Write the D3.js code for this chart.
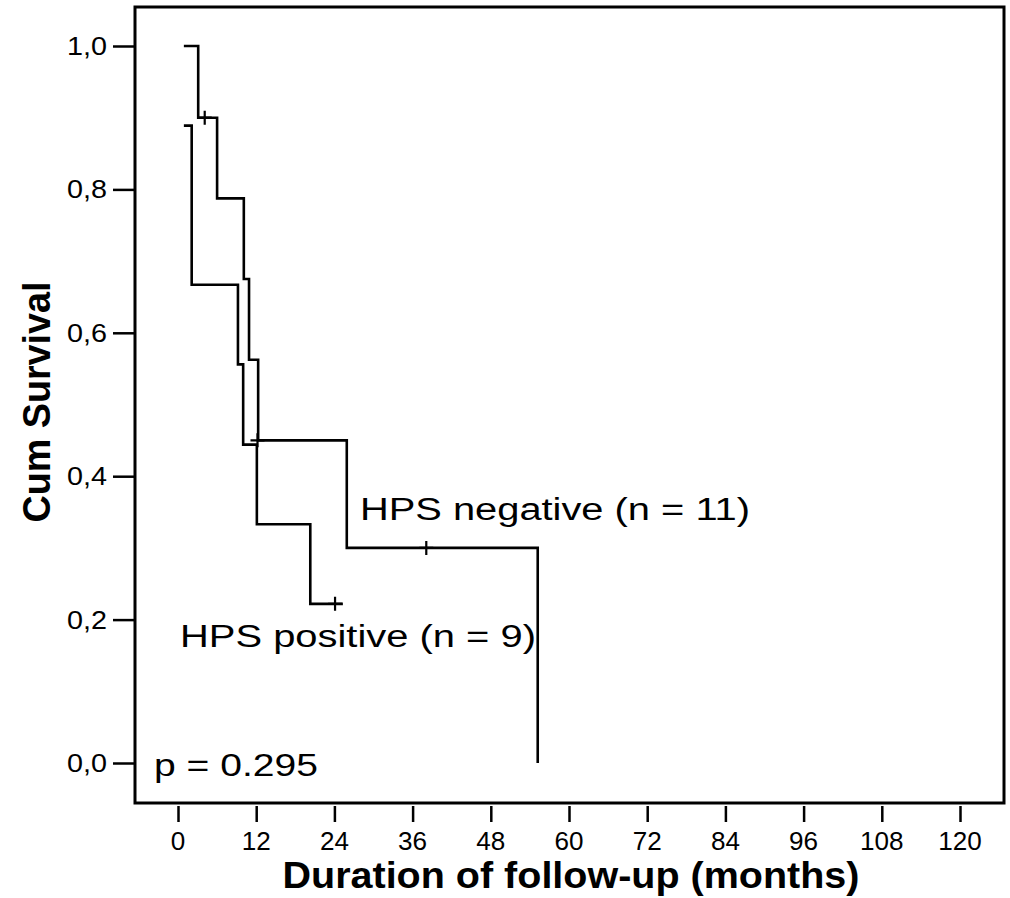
<!DOCTYPE html>
<html>
<head>
<meta charset="utf-8">
<script src="https://cdn.jsdelivr.net/npm/d3@7"></script>
<style>
  body { margin: 0; background: #fff; }
  text { font-family: "Liberation Sans", Arial, sans-serif; fill: #000; }
</style>
</head>
<body>
<svg id="km" width="1010" height="898"></svg>
<script>
// Kaplan-Meier steps (months, cumulative survival)
const negTimes = [0.9, 3.1, 6.0, 10.1, 10.9, 12.3, 25.9, 55.2];
const negSurv = [1.0, 0.9, 0.7875, 0.675, 0.5625, 0.45, 0.30, 0.0];
const negCensorTimes = [4.1, 12.2, 38.1];
const negCensorSurv = [0.9, 0.45, 0.30];

const posTimes = [0.9, 2.1, 9.2, 10.0, 12.1, 20.3, 25.3];
const posSurv = [0.889, 0.667, 0.556, 0.444, 0.333, 0.222, 0.222];
const posCensorTimes = [24.1];
const posCensorSurv = [0.222];

const xTicks = [0, 12, 24, 36, 48, 60, 72, 84, 96, 108, 120];
const yTicks = [0, 0.2, 0.4, 0.6, 0.8, 1.0];
const yTickLabels = ['0,0', '0,2', '0,4', '0,6', '0,8', '1,0'];

const groupLabels = ['HPS negative (n = 11)', 'HPS positive (n = 9)'];
const pLabel = 'p = 0.295';

const svg = d3.select('svg#km');

const x = d3.scaleLinear().domain([0, 120]).range([178, 960]);
const y = d3.scaleLinear().domain([0, 1]).range([763, 46]);

// plot frame
svg.append('rect')
  .attr('x', 135).attr('y', 7)
  .attr('width', 869).attr('height', 796)
  .attr('fill', 'none')
  .attr('stroke', '#000')
  .attr('stroke-width', 3);

// y axis (tick lines from d3, labels drawn below)
const yAxis = svg.append('g')
  .attr('transform', 'translate(135,0)')
  .call(d3.axisLeft(y).tickValues(yTicks).tickSize(22).tickFormat(''));
yAxis.select('.domain').remove();
yAxis.selectAll('.tick line').attr('stroke', '#000').attr('stroke-width', 2.5);

svg.append('g')
  .selectAll('text')
  .data(yTicks)
  .enter()
  .append('text')
  .attr('x', 107)
  .attr('y', d => y(d) + 9)
  .attr('text-anchor', 'end')
  .attr('font-size', 25)
  .attr('textLength', 40)
  .attr('lengthAdjust', 'spacingAndGlyphs')
  .text((d, i) => yTickLabels[i]);

// x axis
const xAxis = svg.append('g')
  .attr('transform', 'translate(0,806)')
  .call(d3.axisBottom(x).tickValues(xTicks).tickSize(16).tickFormat(''));
xAxis.select('.domain').remove();
xAxis.selectAll('.tick line').attr('stroke', '#000').attr('stroke-width', 2.5);

svg.append('g')
  .selectAll('text')
  .data(xTicks)
  .enter()
  .append('text')
  .attr('x', d => x(d))
  .attr('y', 850)
  .attr('text-anchor', 'middle')
  .attr('font-size', 25)
  .attr('textLength', d => String(d).length * 14.5)
  .attr('lengthAdjust', 'spacingAndGlyphs')
  .text(d => d);

// axis titles
svg.append('text')
  .attr('x', 571).attr('y', 888)
  .attr('text-anchor', 'middle')
  .attr('font-size', 37)
  .attr('font-weight', 'bold')
  .attr('textLength', 577)
  .attr('lengthAdjust', 'spacingAndGlyphs')
  .text('Duration of follow-up (months)');

svg.append('text')
  .attr('transform', 'translate(50,402) rotate(-90)')
  .attr('text-anchor', 'middle')
  .attr('font-size', 38)
  .attr('font-weight', 'bold')
  .attr('textLength', 241)
  .attr('lengthAdjust', 'spacingAndGlyphs')
  .text('Cum Survival');

// survival curves
const step = d3.line()
  .x(d => x(d[0]))
  .y(d => y(d[1]))
  .curve(d3.curveStepAfter);

const curves = [
  d3.zip(negTimes, negSurv),
  d3.zip(posTimes, posSurv)
];

svg.append('g')
  .selectAll('path')
  .data(curves)
  .enter()
  .append('path')
  .attr('fill', 'none')
  .attr('stroke', '#000')
  .attr('stroke-width', 2.6)
  .attr('d', d => step(d));

// censor marks
const censors = d3.zip(negCensorTimes, negCensorSurv)
  .concat(d3.zip(posCensorTimes, posCensorSurv));
const half = 7;
svg.append('g')
  .selectAll('path')
  .data(censors)
  .enter()
  .append('path')
  .attr('fill', 'none')
  .attr('stroke', '#000')
  .attr('stroke-width', 2.2)
  .attr('d', d => {
    const cx = x(d[0]), cy = y(d[1]);
    return `M${cx - half},${cy}H${cx + half}M${cx},${cy - half}V${cy + half}`;
  });

// annotations
svg.append('text')
  .attr('x', 360).attr('y', 520)
  .attr('font-size', 31)
  .attr('textLength', 390)
  .attr('lengthAdjust', 'spacingAndGlyphs')
  .text(groupLabels[0]);

svg.append('text')
  .attr('x', 180).attr('y', 647)
  .attr('font-size', 31)
  .attr('textLength', 356)
  .attr('lengthAdjust', 'spacingAndGlyphs')
  .text(groupLabels[1]);

svg.append('text')
  .attr('x', 154).attr('y', 776)
  .attr('font-size', 31)
  .attr('textLength', 164)
  .attr('lengthAdjust', 'spacingAndGlyphs')
  .text(pLabel);
</script>
</body>
</html>
